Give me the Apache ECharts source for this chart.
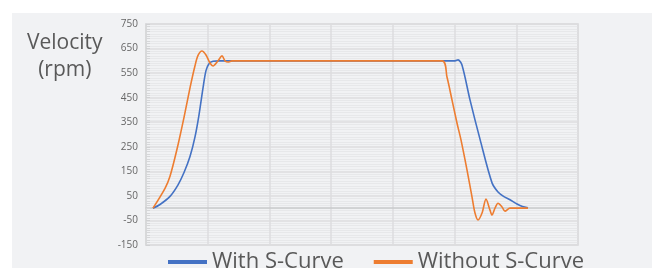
<!DOCTYPE html>
<html>
<head>
<meta charset="utf-8">
<script src="https://cdn.jsdelivr.net/npm/echarts@6/dist/echarts.min.js"></script>
<style>
html,body{margin:0;padding:0;background:#ffffff;}
#chart{width:652px;height:268px;}
</style>
</head>
<body>
<div id="chart"></div>
<script>
// Data (x in time units, 100 per vertical gridline)
const seriesNames = ["With S-Curve", "Without S-Curve"];
const yAxisTitle = "Velocity\n(rpm)";
const yMin = -150, yMax = 750, yStep = 100;
const xMin = 0, xMax = 700, xStep = 100;

const withSCurveX = [11.3, 22.7, 38.9, 51.9, 61.6, 71.3, 79.4, 85.9, 92.4, 97.2, 102.1, 108.6, 119.9,
  500.7, 505.6, 512.0, 525.0, 541.3, 560.7, 570.4, 580.0, 589.8, 601.2, 610.0, 619.0];
const withSCurveY = [0, 15, 48, 95, 145, 210, 290, 380, 490, 560, 588, 598, 600,
  600, 604, 583, 441, 280, 103, 66, 47, 34, 17, 7, 2];

const withoutSCurveX = [11.3, 30.8, 38.9, 50.2, 61.6, 71.3, 79.4, 84.3, 90.7, 97.2, 103.7, 108.6, 116.7,
  123.2, 128.0, 132.9, 139.4, 479.6, 487.7, 495.8, 503.9, 510.4, 520.2, 528.3, 533.1, 538.0, 544.5,
  550.9, 557.4, 560.7, 565.5, 570.4, 576.9, 581.7, 589.8, 619.0];
const withoutSCurveY = [0, 81, 130, 240, 370, 490, 580, 622, 640, 624, 591, 579, 600,
  620, 600, 595, 600, 600, 534, 441, 347, 278, 155, 45, -20, -48, -20,
  37, -8, -28, 0, 20, 5, -12, 0, 0];

function pairs(xs, ys){ return xs.map((x,i)=>[x, ys[i]]); }

const chart = echarts.init(document.getElementById('chart'), null, {renderer:'canvas'});
const fontFam = '"Open Sans", "Noto Sans", sans-serif';
chart.setOption({
  backgroundColor: '#ffffff',
  animation: false,
  graphic: [
    {type:'rect', z:-10, silent:true, shape:{x:12, y:13, width:640, height:255}, style:{fill:'#f1f2f4'}},
    {type:'text', left: 27, top: 30, z: 10,
      style:{text: yAxisTitle, font: '21px ' + fontFam, fill:'#595959', align:'center', lineHeight: 27, textAlign:'center'}}
  ],
  grid: {left:146, right:74, top:24, bottom:23, show:true, borderColor:'#d6d7d9', borderWidth:1.5, backgroundColor:'transparent'},
  legend: {
    top: 251, left: 168, padding: 0,
    itemWidth: 39, itemHeight: 4, itemGap: 30,
    icon: 'rect',
    textStyle: {fontSize: 22, lineHeight: 22, color:'#595959', fontFamily: fontFam},
    data: seriesNames
  },
  xAxis: {
    type:'value', min:xMin, max:xMax, interval:xStep,
    axisLabel:{show:false}, axisTick:{show:false},
    axisLine:{show:true, onZero:true, lineStyle:{color:'#c9cacc', width:1.5}},
    splitLine:{show:true, lineStyle:{color:'#dcdddf', width:1.5}}
  },
  yAxis: {
    type:'value', min:yMin, max:yMax, interval:yStep,
    axisLabel:{color:'#666666', fontSize:10, fontFamily: fontFam, margin: 8},
    axisLine:{show:true, lineStyle:{color:'#d6d7d9', width:1.5}},
    axisTick:{show:true, inside:true, length:4, lineStyle:{color:'#d0d1d3'}},
    minorTick:{show:true, splitNumber:10, length:4, lineStyle:{color:'#d6d7d9'}},
    splitLine:{show:true, lineStyle:{color:'#dcdddf', width:1.5}},
    minorSplitLine:{show:true, lineStyle:{color:'#e7e8ea', width:1}}
  },
  series: [
    {name: seriesNames[0], type:'line', data: pairs(withSCurveX, withSCurveY), smooth:0.3, symbol:'none',
      lineStyle:{color:'#4472C4', width:1.6}, itemStyle:{color:'#4472C4'}},
    {name: seriesNames[1], type:'line', data: pairs(withoutSCurveX, withoutSCurveY), smooth:0.3, symbol:'none',
      lineStyle:{color:'#ED7D31', width:1.6}, itemStyle:{color:'#ED7D31'}}
  ]
});
</script>
</body>
</html>
